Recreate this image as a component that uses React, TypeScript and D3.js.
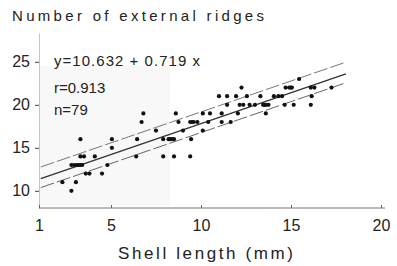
import * as React from "react";
import * as d3 from "d3";

// shell length (mm) and ridge count
const shellLength = [
  2.8,
  2.3, 3.05,
  3.6, 3.8, 4.5,
  2.8, 2.95, 3.1, 3.2, 3.3, 3.4, 4.8,
  3.3, 3.5, 4.1, 6.4, 7.9, 8.5, 9.4,
  5.05,
  3.3, 5.05, 6.45, 7.9, 8.2, 8.3, 8.4, 8.5, 9.45,
  7.5, 9.0, 10.1,
  6.7, 8.75, 9.4, 9.5, 9.6, 9.8, 10.4, 11.15, 11.65,
  6.8, 8.6, 10.1, 10.5, 11.15, 12.05, 13.6,
  11.45, 12.15, 12.35, 12.7, 13.0, 13.45, 13.55, 13.6, 13.75, 14.65, 15.15, 16.1,
  11.0, 11.45, 11.95, 12.55, 13.3, 14.05, 14.3, 14.5, 16.15,
  12.25, 14.7, 14.9, 15.0, 15.05, 16.1, 16.3, 17.25,
  15.45
];
const ridges = [
  10,
  11, 11,
  12, 12, 12,
  13, 13, 13, 13, 13, 13, 13,
  14, 14, 14, 14, 14, 14, 14,
  15,
  16, 16, 16, 16, 16, 16, 16, 16, 16,
  17, 17, 17,
  18, 18, 18, 18, 18, 18, 18, 18, 18,
  19, 19, 19, 19, 19, 19, 19,
  20, 20, 20, 20, 20, 20, 20, 20, 20, 20, 20, 20,
  21, 21, 21, 21, 21, 21, 21, 21, 21,
  22, 22, 22, 22, 22, 22, 22, 22,
  23
];

const intercept = 10.632;
const slope = 0.719;
const upperOffset = 1.35;
const lowerOffset = -1.05;
const lineRange = [1.1, 18.05];

const xTicks = [1, 5, 10, 15, 20];
const yTicks = [10, 15, 20, 25];
const statLines = ["y=10.632 + 0.719 x", "r=0.913", "n=79"];

const FONT = "'Liberation Sans', Arial, sans-serif";

const App: React.FunctionComponent = () => {
  const svgRef = React.useRef<SVGSVGElement>(null);

  React.useEffect(() => {
    const svg = d3.select(svgRef.current);
    svg.selectAll("*").remove();

    const x = d3.scaleLinear().domain([1, 20]).range([39, 381]);
    const y = d3.scaleLinear().domain([8, 28.35]).range([208, 33]);

    // faint scan shading
    svg
      .append("rect")
      .attr("x", 40)
      .attr("y", 66)
      .attr("width", 130)
      .attr("height", 140)
      .attr("fill", "#f8f8f8");

    // y axis
    const yAxis = svg
      .append("g")
      .attr("transform", `translate(${x(1)},0)`)
      .call(d3.axisLeft(y).tickValues(yTicks).tickSize(4).tickPadding(5).tickSizeOuter(0));
    yAxis.select(".domain").attr("stroke", "#c4c4c4");
    yAxis.selectAll(".tick line").attr("stroke", "#444");
    yAxis
      .selectAll(".tick text")
      .attr("font-family", FONT)
      .attr("font-size", 16)
      .attr("fill", "#222");

    // x axis
    const xAxis = svg
      .append("g")
      .attr("transform", `translate(0,${y(8)})`)
      .call(d3.axisBottom(x).tickValues(xTicks).tickSize(-3).tickPadding(12).tickSizeOuter(0));
    xAxis.select(".domain").attr("stroke", "#777").attr("d", `M${x(1)},0H${x(20) + 4}`);
    xAxis.selectAll(".tick line").attr("stroke", "#666");
    xAxis
      .selectAll(".tick text")
      .attr("font-family", FONT)
      .attr("font-size", 16)
      .attr("fill", "#222");

    // regression line and limits
    const fit = (v: number) => intercept + slope * v;
    const lines = [
      { off: lowerOffset, color: "#666", dash: "14 3", w: 1 },
      { off: upperOffset, color: "#777", dash: "14 3", w: 1 },
      { off: 0, color: "#333", dash: null, w: 1.3 }
    ];
    lines.forEach(l => {
      svg
        .append("line")
        .attr("x1", x(lineRange[0]))
        .attr("x2", x(lineRange[1]))
        .attr("y1", y(fit(lineRange[0]) + l.off))
        .attr("y2", y(fit(lineRange[1]) + l.off))
        .attr("stroke", l.color)
        .attr("stroke-width", l.w)
        .attr("stroke-dasharray", l.dash);
    });

    // points
    svg
      .append("g")
      .selectAll("circle")
      .data(shellLength)
      .enter()
      .append("circle")
      .attr("cx", d => x(d))
      .attr("cy", (d, i) => y(ridges[i]))
      .attr("r", 2.1)
      .attr("fill", "#111");

    // stats
    const statY = [66, 93, 115];
    svg
      .append("g")
      .selectAll("text")
      .data(statLines)
      .enter()
      .append("text")
      .attr("x", 54)
      .attr("y", (d, i) => statY[i])
      .attr("font-family", FONT)
      .attr("font-size", 15)
      .attr("fill", "#222")
      .attr("textLength", (d, i) => (i === 0 ? 146 : null))
      .attr("lengthAdjust", "spacing")
      .text(d => d);

    // titles
    svg
      .append("text")
      .attr("x", 12)
      .attr("y", 21)
      .attr("font-family", FONT)
      .attr("font-size", 15)
      .attr("fill", "#222")
      .attr("textLength", 252)
      .attr("lengthAdjust", "spacing")
      .text("Number of external ridges");

    svg
      .append("text")
      .attr("x", 118)
      .attr("y", 259)
      .attr("font-family", FONT)
      .attr("font-size", 17)
      .attr("fill", "#222")
      .attr("textLength", 175)
      .attr("lengthAdjust", "spacing")
      .text("Shell length (mm)");
  }, []);

  return (
    <svg
      ref={svgRef}
      width={397}
      height={266}
      style={{ position: "absolute", left: 0, top: 0, background: "#fff" }}
    />
  );
};

export default App;
